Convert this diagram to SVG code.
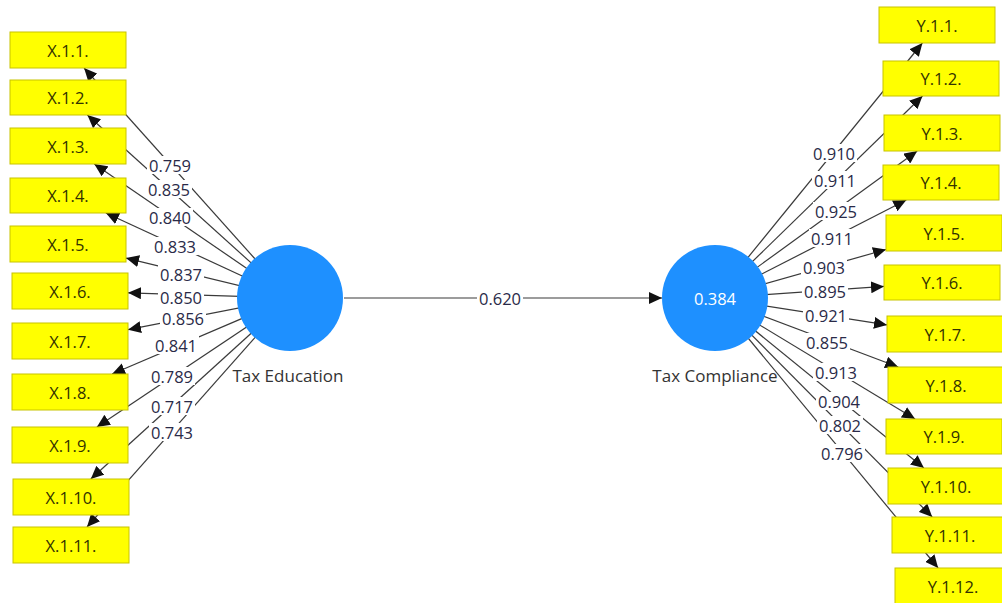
<svg xmlns="http://www.w3.org/2000/svg" width="1002" height="603" viewBox="0 0 1002 603">
  <style>
    .ind rect { fill: #ffff00; stroke: #c8c400; stroke-width: 1; }
    .ind text { font-family: "Open Sans", "Noto Sans", sans-serif; font-size: 16.5px; fill: #333300; text-anchor: middle; dominant-baseline: central; }
    .lv circle { fill: #1e90ff; }
    .lv text.name { font-family: "Open Sans", "Noto Sans", sans-serif; font-size: 17px; fill: #333; text-anchor: middle; }
    .lv text.r2 { font-family: "Open Sans", "Noto Sans", sans-serif; font-size: 16.5px; fill: #ffffff; text-anchor: middle; dominant-baseline: central; }
    .edge { stroke: #3a3a3a; stroke-width: 1.2; fill: none; marker-end: url(#arrow); }
    .lbl rect { fill: #ffffff; }
    .lbl text { font-family: "Open Sans", "Noto Sans", sans-serif; font-size: 16.5px; fill: #2a2a48; text-anchor: middle; dominant-baseline: central; }
  </style>
  <defs>
    <marker id="arrow" markerUnits="userSpaceOnUse" markerWidth="14" markerHeight="12" refX="13" refY="6" orient="auto">
      <path d="M0,0 L13,6 L0,12 z" fill="#111"/>
    </marker>
  </defs>

  <rect width="1002" height="603" fill="#ffffff"/>

  <!-- connectors: centre of construct to edge of indicator box -->
  <g id="connectors">
    <path class="edge" d="M290,298 L84.1,68"/>
    <path class="edge" d="M290,298 L87.4,115"/>
    <path class="edge" d="M290,298 L94.3,164"/>
    <path class="edge" d="M290,298 L105.9,213"/>
    <path class="edge" d="M290,298 L126,258.1"/>
    <path class="edge" d="M290,298 L128,292.8"/>
    <path class="edge" d="M290,298 L128,329.7"/>
    <path class="edge" d="M290,298 L112.1,374"/>
    <path class="edge" d="M290,298 L96.9,427"/>
    <path class="edge" d="M290,298 L90.8,479"/>
    <path class="edge" d="M290,298 L87,527"/>

    <path class="edge" d="M344,298 L662,298"/>

    <path class="edge" d="M715,298 L922.4,43"/>
    <path class="edge" d="M715,298 L922.5,96"/>
    <path class="edge" d="M715,298 L917.2,151"/>
    <path class="edge" d="M715,298 L906.3,200"/>
    <path class="edge" d="M715,298 L886,249.5"/>
    <path class="edge" d="M715,298 L884,286.4"/>
    <path class="edge" d="M715,298 L887,324.9"/>
    <path class="edge" d="M715,298 L898.2,367"/>
    <path class="edge" d="M715,298 L915.1,419"/>
    <path class="edge" d="M715,298 L923.9,468"/>
    <path class="edge" d="M715,298 L932.2,517"/>
    <path class="edge" d="M715,298 L938.1,568"/>

    <!-- loading / path coefficient labels -->
    <g class="lbl">
      <rect x="147" y="156" width="46" height="18"/><text x="170" y="165">0.759</text>
      <rect x="146" y="180" width="46" height="18"/><text x="169" y="189">0.835</text>
      <rect x="147" y="208" width="46" height="18"/><text x="170" y="217">0.840</text>
      <rect x="152" y="237" width="46" height="18"/><text x="175" y="246">0.833</text>
      <rect x="158" y="265" width="46" height="18"/><text x="181" y="274">0.837</text>
      <rect x="158" y="288" width="46" height="18"/><text x="181" y="297">0.850</text>
      <rect x="160" y="309" width="46" height="18"/><text x="183" y="318">0.856</text>
      <rect x="153" y="336" width="46" height="18"/><text x="176" y="345">0.841</text>
      <rect x="149" y="367" width="46" height="18"/><text x="172" y="376">0.789</text>
      <rect x="149" y="397" width="46" height="18"/><text x="172" y="406">0.717</text>
      <rect x="149" y="423" width="46" height="18"/><text x="172" y="432">0.743</text>

      <rect x="477" y="289" width="46" height="18"/><text x="500" y="298">0.620</text>

      <rect x="811" y="144" width="46" height="18"/><text x="834" y="153">0.910</text>
      <rect x="812" y="171" width="46" height="18"/><text x="835" y="180">0.911</text>
      <rect x="813" y="202" width="46" height="18"/><text x="836" y="211">0.925</text>
      <rect x="809" y="229" width="46" height="18"/><text x="832" y="238">0.911</text>
      <rect x="801" y="258" width="46" height="18"/><text x="824" y="267">0.903</text>
      <rect x="802" y="282" width="46" height="18"/><text x="825" y="291">0.895</text>
      <rect x="803" y="306" width="46" height="18"/><text x="826" y="315">0.921</text>
      <rect x="804" y="333" width="46" height="18"/><text x="827" y="342">0.855</text>
      <rect x="813" y="363" width="46" height="18"/><text x="836" y="372">0.913</text>
      <rect x="816" y="392" width="46" height="18"/><text x="839" y="401">0.904</text>
      <rect x="817" y="416" width="46" height="18"/><text x="840" y="425">0.802</text>
      <rect x="819" y="444" width="46" height="18"/><text x="842" y="453">0.796</text>
    </g>
  </g>

  <!-- latent constructs -->
  <g id="tax-education" class="lv">
    <circle cx="290" cy="298" r="53"/>
    <text class="name" x="288" y="382">Tax Education</text>
  </g>
  <g id="tax-compliance" class="lv">
    <circle cx="715" cy="298" r="53"/>
    <text class="r2" x="715" y="298">0.384</text>
    <text class="name" x="715" y="382">Tax Compliance</text>
  </g>

  <!-- Tax Education indicators -->
  <g id="x11" class="ind"><rect x="10" y="32" width="116" height="36"/><text x="68" y="50">X.1.1.</text></g>
  <g id="x12" class="ind"><rect x="10" y="80" width="116" height="35"/><text x="68" y="97.5">X.1.2.</text></g>
  <g id="x13" class="ind"><rect x="10" y="128" width="116" height="36"/><text x="68" y="146">X.1.3.</text></g>
  <g id="x14" class="ind"><rect x="10" y="178" width="116" height="35"/><text x="68" y="195.5">X.1.4.</text></g>
  <g id="x15" class="ind"><rect x="10" y="226" width="116" height="36"/><text x="68" y="244">X.1.5.</text></g>
  <g id="x16" class="ind"><rect x="12" y="273" width="116" height="36"/><text x="70" y="291">X.1.6.</text></g>
  <g id="x17" class="ind"><rect x="12" y="323" width="116" height="36"/><text x="70" y="341">X.1.7.</text></g>
  <g id="x18" class="ind"><rect x="12" y="374" width="116" height="36"/><text x="70" y="392">X.1.8.</text></g>
  <g id="x19" class="ind"><rect x="12" y="427" width="116" height="36"/><text x="70" y="445">X.1.9.</text></g>
  <g id="x110" class="ind"><rect x="13" y="479" width="116" height="36"/><text x="71" y="497">X.1.10.</text></g>
  <g id="x111" class="ind"><rect x="13" y="527" width="116" height="36"/><text x="71" y="545">X.1.11.</text></g>

  <!-- Tax Compliance indicators -->
  <g id="y11" class="ind"><rect x="879" y="7" width="116" height="36"/><text x="937" y="25">Y.1.1.</text></g>
  <g id="y12" class="ind"><rect x="883" y="61" width="116" height="35"/><text x="941" y="78.5">Y.1.2.</text></g>
  <g id="y13" class="ind"><rect x="884" y="115" width="116" height="36"/><text x="942" y="133">Y.1.3.</text></g>
  <g id="y14" class="ind"><rect x="883" y="165" width="116" height="35"/><text x="941" y="182.5">Y.1.4.</text></g>
  <g id="y15" class="ind"><rect x="886" y="215" width="116" height="36"/><text x="944" y="233">Y.1.5.</text></g>
  <g id="y16" class="ind"><rect x="884" y="265" width="116" height="35"/><text x="942" y="282.5">Y.1.6.</text></g>
  <g id="y17" class="ind"><rect x="887" y="316" width="116" height="36"/><text x="945" y="334">Y.1.7.</text></g>
  <g id="y18" class="ind"><rect x="888" y="367" width="116" height="36"/><text x="946" y="385">Y.1.8.</text></g>
  <g id="y19" class="ind"><rect x="886" y="419" width="116" height="35"/><text x="944" y="436.5">Y.1.9.</text></g>
  <g id="y110" class="ind"><rect x="888" y="468" width="116" height="36"/><text x="946" y="486">Y.1.10.</text></g>
  <g id="y111" class="ind"><rect x="892" y="517" width="116" height="36"/><text x="950" y="535">Y.1.11.</text></g>
  <g id="y112" class="ind"><rect x="895" y="568" width="116" height="36"/><text x="953" y="586">Y.1.12.</text></g>
</svg>
